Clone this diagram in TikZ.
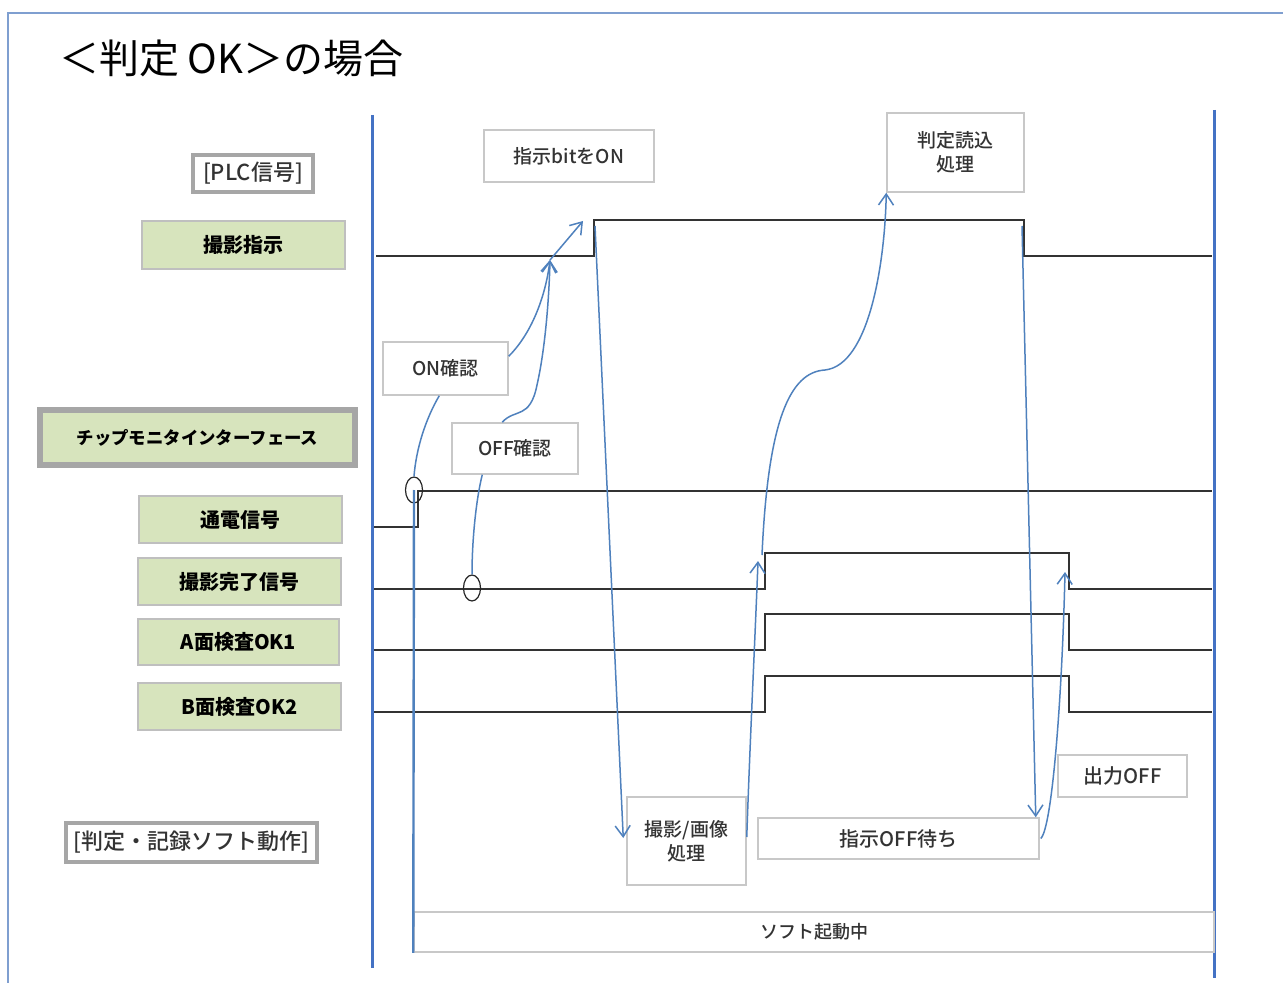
\documentclass[tikz,border=0pt]{standalone}
\usepackage{fontspec}
\setmainfont{Noto Sans CJK JP}
\newfontfamily\medfont{Noto Sans CJK JP Medium}
\usetikzlibrary{arrows.meta,shapes.geometric,calc}
\definecolor{frameblue}{HTML}{7F9FD0}
\definecolor{sigblue}{HTML}{4F81BD}
\definecolor{axisblue}{HTML}{4472C4}
\definecolor{lblgreen}{HTML}{D7E4BD}
\definecolor{lblborder}{HTML}{BFBFBF}
\definecolor{thickgray}{HTML}{A6A6A6}
\definecolor{boxborder}{HTML}{C8C8C8}
\definecolor{txt}{HTML}{333333}
\begin{document}
\begin{tikzpicture}[x=0.5pt,y=-0.5pt,
  sig/.style={line width=1pt, draw=black!80},
  flow/.style={draw=sigblue, line width=0.75pt, -{Straight Barb[length=5.5pt,width=7.5pt,line width=0.75pt]}},
  flowline/.style={draw=sigblue, line width=0.75pt},
  greenlbl/.style={draw=lblborder, line width=0.75pt, fill=lblgreen, inner sep=0pt, font=\fontsize{10}{12}\selectfont\bfseries, text=black},
  grouplbl/.style={draw=thickgray, line width=2pt, fill=white, inner sep=0pt, font=\fontsize{11}{13}\selectfont\medfont, text=txt},
  txtbox/.style={draw=boxborder, line width=0.75pt, fill=white, inner sep=0pt, align=center, font=\fontsize{9.5}{12}\selectfont\medfont, text=txt},
  ringmark/.style={ellipse, draw=black!85, line width=0.6pt, minimum width=8.5pt, minimum height=13pt, inner sep=0pt}
]
\useasboundingbox (0,0) rectangle (1283,983);
\fill[white] (0,0) rectangle (1283,983);
% outer frame
\draw[frameblue, line width=0.6pt] (8,983) -- (8,13) -- (1283,13);
% title
\node[anchor=west, font=\fontsize{20}{24}\selectfont, text=black] (title) at (52,58) {＜判定 OK＞の場合};
% time axes
\draw[axisblue, line width=1.5pt] (372,115) -- (372,968);
\draw[axisblue, line width=1.5pt] (1214,110) -- (1214,978);

% left labels
\node[grouplbl, minimum width=60pt, minimum height=18.5pt] (plc) at (253,173.5) {[PLC信号]};
\node[greenlbl, minimum width=101.5pt, minimum height=24pt] (satsuei) at (243.5,245) {撮影指示};
\node[greenlbl, draw=thickgray, line width=3pt, minimum width=157.5pt, minimum height=27.5pt, font=\fontsize{8.7}{10}\selectfont\bfseries] (chip) at (197.5,437.5) {チップモニタインターフェース};
\node[greenlbl, minimum width=101.5pt, minimum height=23.5pt] (tsuden) at (240.5,519.5) {通電信号};
\node[greenlbl, minimum width=101.5pt, minimum height=23.5pt] (kanryo) at (239.5,581.5) {撮影完了信号};
\node[greenlbl, minimum width=100.5pt, minimum height=23pt] (aok) at (238.5,642) {A面検査OK1};
\node[greenlbl, minimum width=101.5pt, minimum height=23.5pt] (bok) at (239.5,706.5) {B面検査OK2};
\node[grouplbl, minimum width=125.5pt, minimum height=19.5pt] (softlbl) at (191.5,842.5) {[判定・記録ソフト動作]};

% text boxes
\node[txtbox, minimum width=85pt, minimum height=26pt] (biton) at (569,156) {指示bitをON};
\node[txtbox, minimum width=68.5pt, minimum height=39.5pt] (hantei) at (955.5,152.5) {判定読込\\処理};
\node[txtbox, minimum width=62.5pt, minimum height=26.5pt] (oncheck) at (445.5,368.5) {ON確認};
\node[txtbox, minimum width=63pt, minimum height=25.5pt] (offcheck) at (515,448.5) {OFF確認};
\node[txtbox, minimum width=59.5pt, minimum height=44pt] (gazo) at (686.5,841) {撮影/画像\\処理};
\node[txtbox, minimum width=140.5pt, minimum height=20.5pt, font=\fontsize{10}{12}\selectfont\medfont] (offwait) at (898.5,838.5) {指示OFF待ち};
\node[txtbox, minimum width=64.5pt, minimum height=21pt, font=\fontsize{10}{12}\selectfont\medfont] (outoff) at (1122.5,776) {出力OFF};
\node[txtbox, minimum width=400pt, minimum height=20pt, font=\fontsize{9}{11}\selectfont\medfont] (running) at (814,932) {ソフト起動中};

% signal edge coordinates
\coordinate (shR) at (594,220);
\coordinate (shF) at (1024,220);
\coordinate (krR) at (765,553);
\coordinate (krF) at (1069,553);
\coordinate (j1) at (550,260);
\coordinate (shTip) at (583,221);

% waveforms
\draw[sig] (376,256) -- (594,256) -- (shR) -- (shF) -- (1024,256) -- (1212,256);
\draw[sig] (374,527) -- (418,527) -- (418,491) -- (1212,491);
\draw[sig] (374,589) -- (765,589) -- (krR) -- (krF) -- (1069,589) -- (1212,589);
\draw[sig] (374,650) -- (765,650) -- (765,614) -- (1069,614) -- (1069,650) -- (1212,650);
\draw[sig] (374,712) -- (765,712) -- (765,676) -- (1069,676) -- (1069,712) -- (1212,712);

% check marks
\node[ringmark] (ring1) at (414,490) {};
\node[ringmark] (ring2) at (472,588) {};

% flows
\draw[sigblue, line width=1.2pt] (ring1.center) -- (running.south west);
\draw[flow] ($(oncheck.north east)+(0,15)$) .. controls (530,335) and (545,300) .. (j1);
\draw[flow] ($(offcheck.north west)+(51,0)$) .. controls (515,408) and (530,420) .. (537,385) .. controls (545,350) and (549,300) .. (j1);
\draw[flow] (j1) -- (shTip);
\draw[flowline] ($(oncheck.south west)+(57,0)$) .. controls (425,420) and (416,450) .. (ring1.north);
\draw[flowline] ($(offcheck.south west)+(31,0)$) .. controls (476,500) and (472,540) .. (ring2.north);
\draw[flow] ($(shR)+(1,6)$) -- ($(gazo.west)+(-3,-3)$);
\draw[flow] ($(gazo.east)+(0,-4)$) .. controls (750,740) and (755,640) .. ($(krR)+(-7,8)$);
\draw[flow] ($(krR)+(-3,2)$) .. controls (768,420) and (790,372) .. (825,370) .. controls (870,365) and (885,260) .. (hantei.south west);
\draw[flow] ($(shF)+(-2,6)$) -- ($(offwait.north east)+(-4,0)$);
\draw[flow] ($(offwait.east)+(1,0)$) .. controls (1052,828) and (1062,700) .. ($(krF)+(-4,19)$);
\end{tikzpicture}
\end{document}
